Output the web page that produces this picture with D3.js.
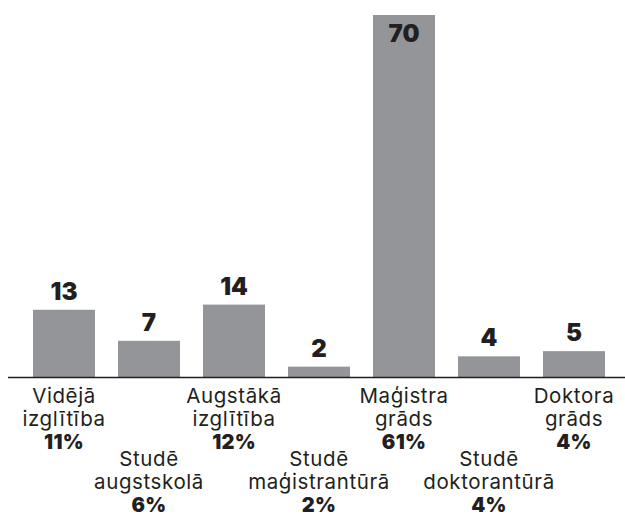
<!DOCTYPE html>
<html>
<head>
<meta charset="utf-8">
<script src="https://cdn.jsdelivr.net/npm/d3@7"></script>
<style>
  body { margin: 0; background: #fff; }
  text { font-family: Inter, "Open Sans", sans-serif; fill: #231f20; }
  .cat { font-size: 20.5px; font-weight: 400; letter-spacing: 0.6px; }
  .pct { font-size: 20px; font-weight: 900; letter-spacing: 0.3px; }
  .val { font-size: 24px; font-weight: 900; }
</style>
</head>
<body>
<script>
// Data
const categories = [
  ["Vidējā", "izglītība"],
  ["Studē", "augstskolā"],
  ["Augstākā", "izglītība"],
  ["Studē", "maģistrantūrā"],
  ["Maģistra", "grāds"],
  ["Studē", "doktorantūrā"],
  ["Doktora", "grāds"]
];
const counts = [13, 7, 14, 2, 70, 4, 5];
const shares = ["11%", "6%", "12%", "2%", "61%", "4%", "4%"];

const width = 625, height = 514, baseline = 377;

const svg = d3.select("body").append("svg")
  .attr("width", width)
  .attr("height", height);

const x = d3.scaleBand()
  .domain(d3.range(counts.length))
  .range([33, 605])
  .paddingInner(23 / 85)
  .paddingOuter(0);

const y = d3.scaleLinear().domain([0, 70]).range([baseline, 15]);

// Bars
svg.selectAll("rect.bar")
  .data(counts)
  .enter()
  .append("rect")
  .attr("class", "bar")
  .attr("x", (d, i) => x(i))
  .attr("y", d => y(d))
  .attr("width", x.bandwidth())
  .attr("height", d => baseline - y(d))
  .style("fill", "#939598");

// Axis line
svg.append("line")
  .attr("x1", 8)
  .attr("x2", width)
  .attr("y1", baseline + 0.5)
  .attr("y2", baseline + 0.5)
  .style("stroke", "#231f20")
  .style("stroke-width", 1.5);

// Value labels (the tallest one sits inside its bar)
const maxVal = d3.max(counts);
svg.selectAll("text.val")
  .data(counts)
  .enter()
  .append("text")
  .attr("class", "val")
  .attr("text-anchor", "middle")
  .attr("x", (d, i) => x(i) + x.bandwidth() / 2)
  .attr("y", d => d === maxVal ? y(d) + 27 : y(d) - 10)
  .text(d => d);

// Category labels, alternating between two rows
const label = svg.selectAll("g.label")
  .data(categories)
  .enter()
  .append("g")
  .attr("class", "label")
  .attr("transform", (d, i) =>
    `translate(${x(i) + x.bandwidth() / 2},${i % 2 === 0 ? 403 : 466})`);

label.each(function (d, i) {
  const g = d3.select(this);
  d.forEach((line, k) => {
    g.append("text")
      .attr("class", "cat")
      .attr("text-anchor", "middle")
      .attr("y", k * 23)
      .text(line);
  });
  g.append("text")
    .attr("class", "pct")
    .attr("text-anchor", "middle")
    .attr("y", d.length * 23)
    .text(shares[i]);
});
</script>
</body>
</html>
